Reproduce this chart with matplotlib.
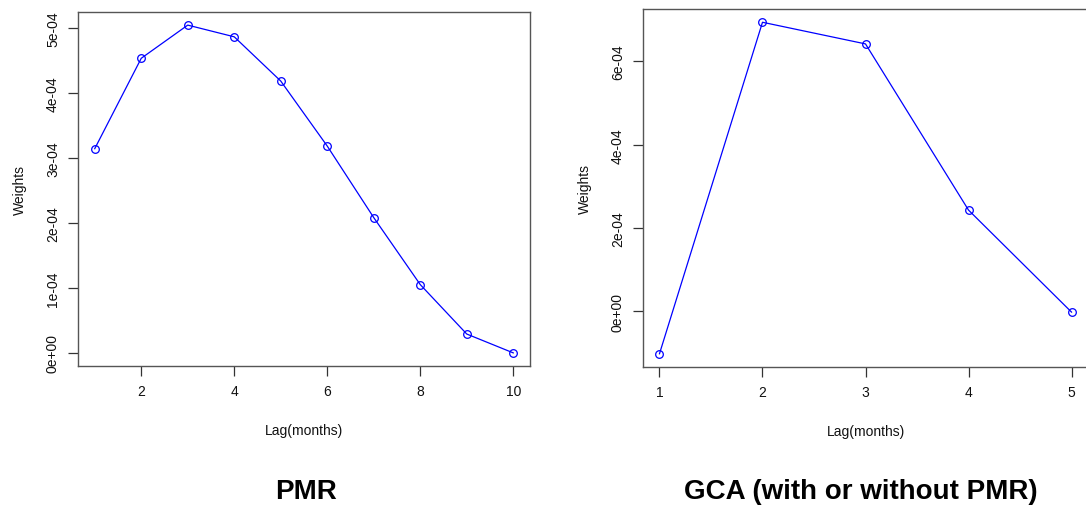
import matplotlib
matplotlib.use("Agg")
import matplotlib.pyplot as plt

plt.rcParams['font.family'] = ['Liberation Sans', 'DejaVu Sans']

pmr_lags = [1, 2, 3, 4, 5, 6, 7, 8, 9, 10]
pmr_weights = [3.14e-4, 4.53e-4, 5.04e-4, 4.86e-4, 4.18e-4, 3.18e-4, 2.08e-4, 1.05e-4, 0.29e-4, 0.0]
pmr_xticks = [2, 4, 6, 8, 10]
pmr_yticks = [0, 1e-4, 2e-4, 3e-4, 4e-4, 5e-4]
pmr_ylabels = ["0e+00", "1e-04", "2e-04", "3e-04", "4e-04", "5e-04"]

gca_lags = [1, 2, 3, 4, 5]
gca_weights = [-1.02e-4, 6.94e-4, 6.42e-4, 2.43e-4, -0.02e-4]
gca_xticks = [1, 2, 3, 4, 5]
gca_yticks = [0, 2e-4, 4e-4, 6e-4]
gca_ylabels = ["0e+00", "2e-04", "4e-04", "6e-04"]

W, H = 1086, 506
fig = plt.figure(figsize=(W / 100, H / 100), dpi=100)


def px_axes(x0, y0, x1, y1):
    return fig.add_axes([x0 / W, 1 - y1 / H, (x1 - x0) / W, (y1 - y0) / H])


def r_range(vals):
    lo, hi = min(vals), max(vals)
    pad = (hi - lo) * 0.04
    return lo - pad, hi + pad


def style(ax, x, y, xticks, yticks, ylabels):
    ax.plot(x, y, color='#0000FF', lw=0.9, marker='o', ms=5.5, mfc='none',
            mec='#0000FF', mew=0.9)
    ax.set_xlim(*r_range(x))
    ax.set_ylim(*r_range(y))
    ax.set_xticks(xticks)
    ax.set_xticklabels([str(t) for t in xticks])
    ax.set_yticks(yticks)
    ax.set_yticklabels(ylabels, rotation=90, va='center')
    ax.tick_params(direction='out', length=7, width=0.9, colors='#333333',
                   labelsize=10, labelcolor='#111111', pad=6)
    for s in ax.spines.values():
        s.set_color('#555555')
        s.set_linewidth(1.0)
    ax.set_xlabel("Lag(months)", fontsize=10, color='#111111', labelpad=18)
    ax.set_ylabel("Weights", fontsize=10, color='#111111', labelpad=14)


ax1 = px_axes(78, 13, 530, 367)
style(ax1, pmr_lags, pmr_weights, pmr_xticks, pmr_yticks, pmr_ylabels)

ax2 = px_axes(643, 10, 1088, 368)
style(ax2, gca_lags, gca_weights, gca_xticks, gca_yticks, gca_ylabels)

fig.text(306 / W, 1 - 492 / H, "PMR", ha='center', va='center',
         fontsize=20, fontweight='bold')
fig.text(861 / W, 1 - 492 / H, "GCA (with or without PMR)", ha='center',
         va='center', fontsize=20, fontweight='bold')

fig.savefig("out.png", dpi=100)
